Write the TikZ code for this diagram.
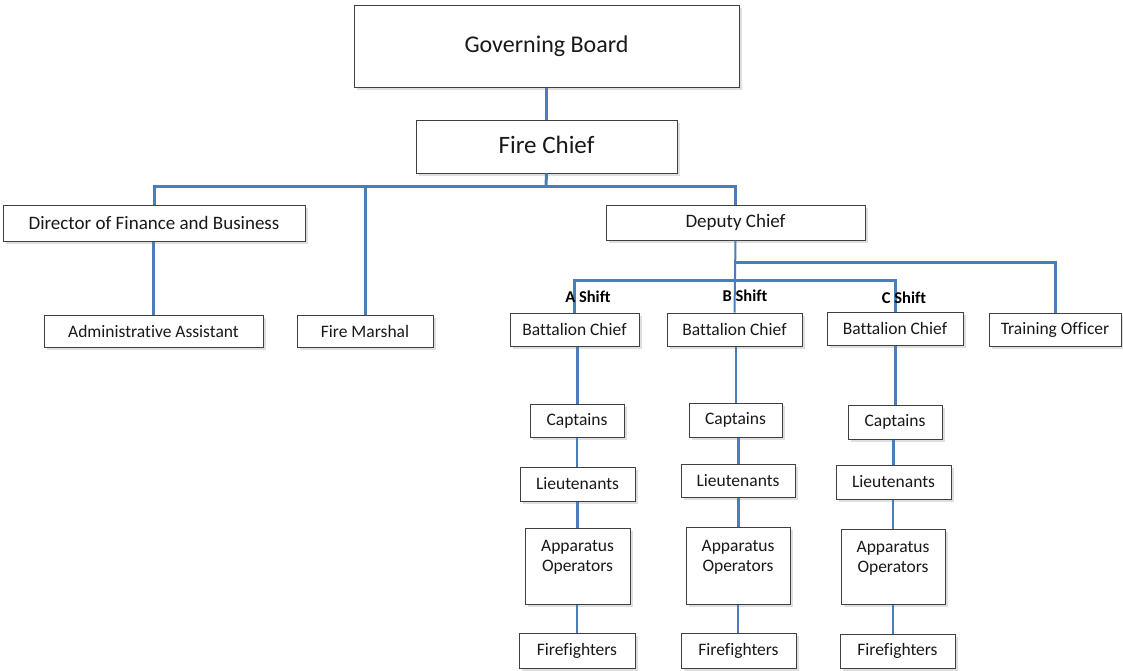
\documentclass[tikz,border=0pt]{standalone}
\usepackage{fontspec}
\setmainfont{Carlito}[Ligatures={NoCommon}]
\usetikzlibrary{shadows}

\definecolor{linkblue}{HTML}{4A7EBB}
\definecolor{boxgray}{HTML}{404040}

\tikzset{
  unit/.style={draw=boxgray, line width=1pt, fill=white, inner sep=0pt,
    font=\fontsize{17.5}{20}\selectfont, text=black!90,
    drop shadow={shadow xshift=2.5pt, shadow yshift=-2.5pt, opacity=0.25}},
  link/.style={draw=linkblue, line width=3pt},
  thinlink/.style={draw=linkblue, line width=2pt},
  shiftlabel/.style={font=\bfseries\fontsize{16.5}{18}\selectfont, inner sep=0pt}
}

\begin{document}
\begin{tikzpicture}[x=1pt, y=-1pt]
  \useasboundingbox (0,0) rectangle (1123,670);
  \fill[white] (0,0) rectangle (1123,670);

  \node[unit, minimum width=385, minimum height=82, font=\fontsize{24}{28}\selectfont] (gboard) at (546.5,46) {Governing Board};
  \node[unit, minimum width=261, minimum height=53, font=\fontsize{25}{28}\selectfont] (fchief) at (546.5,146.5) {\raisebox{4pt}{Fire Chief}};
  \node[unit, minimum width=302, minimum height=36, font=\fontsize{19}{22}\selectfont] (dirfin) at (154,223) {Director of Finance and Business};
  \node[unit, minimum width=259, minimum height=35, font=\fontsize{19}{22}\selectfont] (deputy) at (735.5,222.5) {Deputy Chief};
  \node[unit, minimum width=219, minimum height=32] (admin) at (153.5,331) {Administrative Assistant};
  \node[unit, minimum width=136, minimum height=32] (fmarshal) at (365,331) {Fire Marshal};

  \node[unit, minimum width=129, minimum height=33] (bcA) at (574.5,329.5) {Battalion Chief};
  \node[unit, minimum width=135, minimum height=33] (bcB) at (734.5,329.5) {Battalion Chief};
  \node[unit, minimum width=136, minimum height=33] (bcC) at (895,328.5) {Battalion Chief};
  \node[unit, minimum width=132, minimum height=33] (trainer) at (1055,329.5) {Training Officer};

  \node[unit, minimum width=94, minimum height=33] (captA) at (577,420.5) {Captains};
  \node[unit, minimum width=93, minimum height=34] (captB) at (735.5,420) {Captains};
  \node[unit, minimum width=94, minimum height=34] (captC) at (895,422) {Captains};

  \node[unit, minimum width=115, minimum height=34] (ltA) at (577.5,484) {Lieutenants};
  \node[unit, minimum width=114, minimum height=33] (ltB) at (738,480.5) {Lieutenants};
  \node[unit, minimum width=115, minimum height=34] (ltC) at (893.5,482) {Lieutenants};

  \node[unit, minimum width=105, minimum height=76, align=center] (opA) at (577.5,566) {Apparatus\\Operators\\\mbox{}};
  \node[unit, minimum width=104, minimum height=77, align=center] (opB) at (738,565.5) {Apparatus\\Operators\\\mbox{}};
  \node[unit, minimum width=104, minimum height=75, align=center] (opC) at (893,566.5) {Apparatus\\Operators\\\mbox{}};

  \node[unit, minimum width=116, minimum height=35] (ffA) at (577,650.5) {Firefighters};
  \node[unit, minimum width=115, minimum height=35] (ffB) at (738.5,650.5) {Firefighters};
  \node[unit, minimum width=115, minimum height=34] (ffC) at (897.5,651) {Firefighters};

  \coordinate (bus) at (546,186);
  \coordinate (tsplit) at (735,262);
  \coordinate (shiftbus) at (735,280);

  \draw[link] (gboard.south) -- (fchief.north);
  \draw[link] (fchief.south) -- (bus);
  \draw[link] (bus) -| (dirfin.north);
  \draw[link] (bus) -| (fmarshal.north);
  \draw[link] (bus) -| (deputy.north);
  \draw[link] (dirfin.south -| admin.north) -- (admin.north);
  \draw[link] (tsplit) -| (trainer.north);
  \draw[thinlink] (deputy.south) -- (bcB.north);
  \draw[link] (shiftbus) -| (bcA.north);
  \draw[link] (shiftbus) -| (bcC.north);

  \draw[link] (bcA.south -| captA.north) -- (captA.north);
  \draw[thinlink] (captA.south) -- (ltA.north -| captA.south);
  \draw[link] (ltA.south) -- (opA.north);
  \draw[link, line width=2.4pt] (opA.south -| ffA.north) -- (ffA.north);

  \draw[thinlink] (bcB.south -| captB.north) -- (captB.north);
  \draw[link] (captB.south -| ltB.north) -- (ltB.north);
  \draw[link] (ltB.south) -- (opB.north);
  \draw[thinlink] (opB.south) -- (ffB.north -| opB.south);

  \draw[link] (bcC.south) -- (captC.north);
  \draw[link] (captC.south -| ltC.north) -- (ltC.north);
  \draw[thinlink] (ltC.south -| opC.north) -- (opC.north);
  \draw[thinlink] (opC.south) -- (ffC.north -| opC.south);

  \node[shiftlabel] (shiftA) at (588,297) {A Shift};
  \node[shiftlabel] (shiftB) at (745,296) {B Shift};
  \node[shiftlabel] (shiftC) at (904,298) {C Shift};
\end{tikzpicture}
\end{document}
